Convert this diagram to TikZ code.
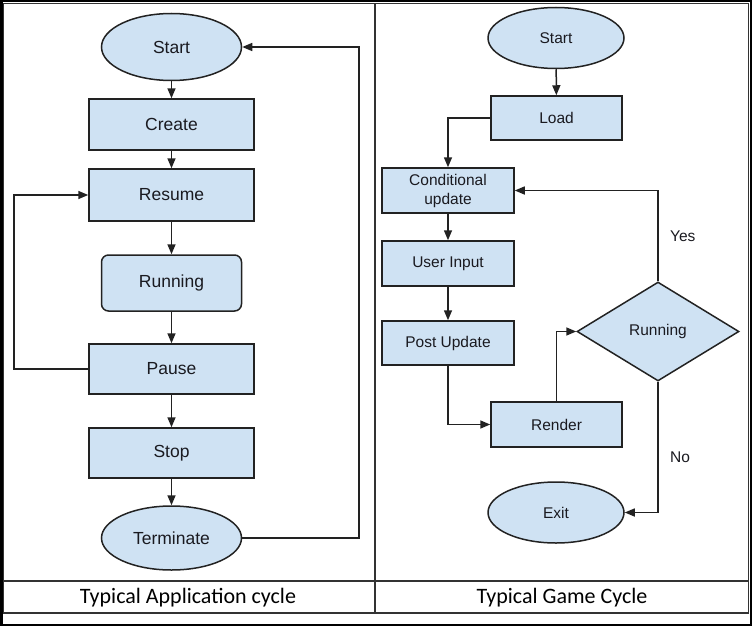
\documentclass[tikz,border=0pt]{standalone}
\usepackage{fontspec}
\setmainfont{Liberation Sans}
\newfontfamily\captionfont{Carlito}
\usetikzlibrary{shapes.geometric, arrows.meta}
\definecolor{boxblue}{HTML}{CFE2F3}
\definecolor{boxline}{HTML}{222222}
\definecolor{textgray}{HTML}{1A1A20}

\begin{document}
\begin{tikzpicture}[x=1pt, y=-1pt,
        box/.style={draw=boxline, line width=1.5pt, fill=boxblue, inner sep=0pt,
            align=center, text=textgray},
        lbox/.style={box, font=\fontsize{17.5}{19}\selectfont},
        rbox/.style={box, font=\fontsize{15.5}{19}\selectfont},
        conn/.style={draw=boxline, line width=1.5pt, -{Triangle[length=10pt, width=8pt]}},
        answer/.style={font=\fontsize{15.5}{17}\selectfont, text=textgray},
        caption/.style={font=\captionfont\fontsize{22}{24}\selectfont}]
                \useasboundingbox (0,0) rectangle (752,626);
                \draw[line width=2.5pt] (1.25,1.25) rectangle (750.75,624.75);
                \draw[line width=1.5pt, black!80] (3.5,3.5) rectangle (748.5,613);
                \draw[line width=1.5pt, black!80] (3.5,581) -- (748.5,581);
                \draw[line width=1.5pt, black!80] (375,3.5) -- (375,613);
                \node[caption] (capapp) at (188,598) {Typical Application cycle};
                \node[caption] (capgame) at (562,598) {Typical Game Cycle};
                \node[lbox, ellipse, minimum width=140pt, minimum height=67pt] (astart) at (171.5,47) {Start};
                \node[lbox, minimum width=165pt, minimum height=51pt] (acreate) at (171.5,124.5) {Create};
                \node[lbox, minimum width=165pt, minimum height=52pt] (aresume) at (171.5,195) {Resume};
                \node[lbox, minimum width=140pt, minimum height=56pt, rounded corners=7pt] (arunning) at (171.5,283) {Running};
                \node[lbox, minimum width=165pt, minimum height=50pt] (apause) at (171.5,369) {Pause};
                \node[lbox, minimum width=165pt, minimum height=50pt] (astop) at (171.5,453) {Stop};
                \node[lbox, ellipse, minimum width=140pt, minimum height=64pt] (aterm) at (171.5,538) {Terminate};
                \coordinate (aloop) at (14,369);
                \coordinate (aback) at (359,538);
                \draw[conn] (astart) -- (acreate);
                \draw[conn] (acreate) -- (aresume);
                \draw[conn] (aresume) -- (arunning);
                \draw[conn] (arunning) -- (apause);
                \draw[conn] (apause) -- (astop);
                \draw[conn] (astop) -- (aterm);
                \draw[conn] (apause.west) -- (aloop) |- (aresume.west);
                \draw[conn] (aterm.east) -- (aback) |- (astart.east);
                \node[rbox, ellipse, minimum width=136pt, minimum height=61pt] (gstart) at (556,38) {Start};
                \node[rbox, minimum width=131pt, minimum height=44pt] (gload) at (556.5,118) {Load};
                \node[rbox, minimum width=132pt, minimum height=45pt] (gcond) at (448,190.5) {Conditional\\update};
                \node[rbox, minimum width=132pt, minimum height=45pt] (ginput) at (448,263.5) {User Input};
                \node[rbox, minimum width=132pt, minimum height=44pt] (gpost) at (448,343) {Post Update};
                \node[rbox, minimum width=131pt, minimum height=45pt] (grender) at (556.5,424.5) {Render};
                \node[rbox, diamond, minimum width=162pt, minimum height=99pt] (grun) at (658,331.5) {Running};
                \node[rbox, ellipse, minimum width=136pt, minimum height=61pt] (gexit) at (556,512.5) {Exit};
                \draw[conn] (gstart) -- (gload);
                \draw[conn] (gload.west) -| (gcond.north);
                \draw[conn] (gcond) -- (ginput);
                \draw[conn] (ginput) -- (gpost);
                \draw[conn] (gpost.south) |- (grender.west);
                \draw[conn] (grender.north) |- (grun.west);
                \draw[conn] (grun.north) |- node[answer, pos=0.25, right=8pt] (yes) {Yes} (gcond.east);
                \draw[conn] (grun.south) |- node[answer, pos=0.29, right=8pt] (no) {No} (gexit.east);
            \end{tikzpicture}
\end{document}
